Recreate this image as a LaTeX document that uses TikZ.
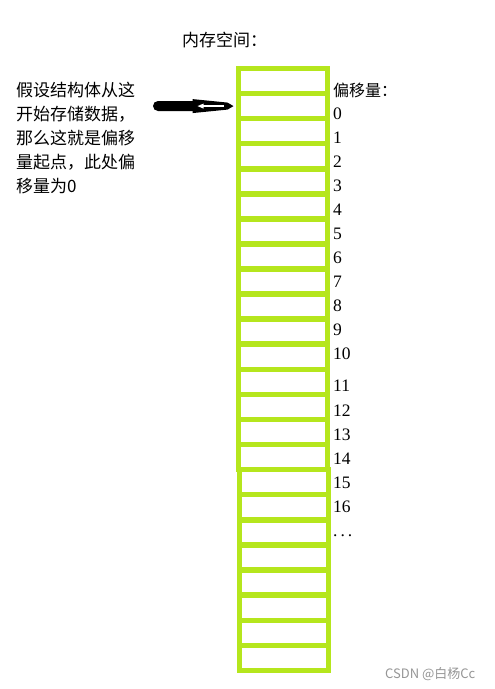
\documentclass[tikz,border=0pt]{standalone}
\usepackage{fontspec}
\setmainfont{Liberation Serif}
\newfontfamily\cjk{Noto Sans CJK SC}
\usetikzlibrary{calc}
\definecolor{limeline}{RGB}{181,230,29}
\definecolor{wmgray}{RGB}{150,150,150}
\begin{document}
\begin{tikzpicture}[x=1pt,y=-1pt,
  cell/.style={draw=limeline, line width=5.5pt, minimum width=89pt, minimum height=25.06pt, inner sep=0pt, outer sep=0pt},
  cjktext/.style={font=\cjk\fontsize{17}{24}\selectfont, anchor=base west, inner sep=0pt},
  num/.style={font=\fontsize{17.5}{20}\selectfont, anchor=base west, inner sep=0pt},
]
\useasboundingbox (0,0) rectangle (495,689);
\fill[white] (0,0) rectangle (495,689);

% lower column
\foreach \k in {0,...,7}
  \node[cell, minimum height=25.125pt] (l\k) at (284, {469.5+25.125*(\k+0.5)}) {};
% upper column
\foreach \k in {0,...,15}
  \node[cell] (u\k) at (283, {68.5+25.0625*(\k+0.5)}) {};

% title
\node[cjktext] (title) at (182,46.5) {内存空间：};

% left explanation
\node[cjktext] (t1) at (16,96.5) {假设结构体从这};
\node[cjktext] (t2) at (16,120.5) {开始存储数据，};
\node[cjktext] (t3) at (16,144.5) {那么这就是偏移};
\node[cjktext] (t4) at (16,168.5) {量起点，此处偏};
\node[cjktext] (t5) at (16,192.5) {移量为0};

% arrow
\coordinate (tail) at (158,106);
\coordinate (tip) at ($(u1.west)+(-5,0)$);
\draw[line width=10pt, line cap=round] (tail) -- ($(tip)+(-38,0)$);
\fill ($(tip)+(-41,-7)$) -- ($(tip)+(-6,-3.5)$) -- (tip) -- ($(tip)+(-6,3.5)$) -- ($(tip)+(-41,7)$) -- cycle;
\draw[white, line width=1.3pt] ($(tip)+(-33,0)$) -- ($(tip)+(-10,0)$);
\fill[white] ($(tip)+(-36,0)$) -- ($(tip)+(-30,-2.5)$) -- ($(tip)+(-30,2.5)$) -- cycle;

% offsets
\node[cjktext, font=\cjk\fontsize{16}{20}\selectfont] (hdr) at (333,96.5) {偏移量：};
\foreach \n/\b in {0/119,1/143,2/167,3/191,4/215,5/239,6/263,7/287,8/311,9/335,10/359,11/391,12/416,13/440,14/464,15/488,16/512}
  \node[num] (o\n) at (333,\b) {\n};
\node[num] (dots) at (333,536) {.\hspace{3pt}.\hspace{3pt}.};

% watermark
\node[font=\cjk\fontsize{13}{15}\selectfont, text=wmgray, anchor=base west, inner sep=0pt] (wm) at (385,678) {CSDN @白杨Cc};
\end{tikzpicture}
\end{document}
